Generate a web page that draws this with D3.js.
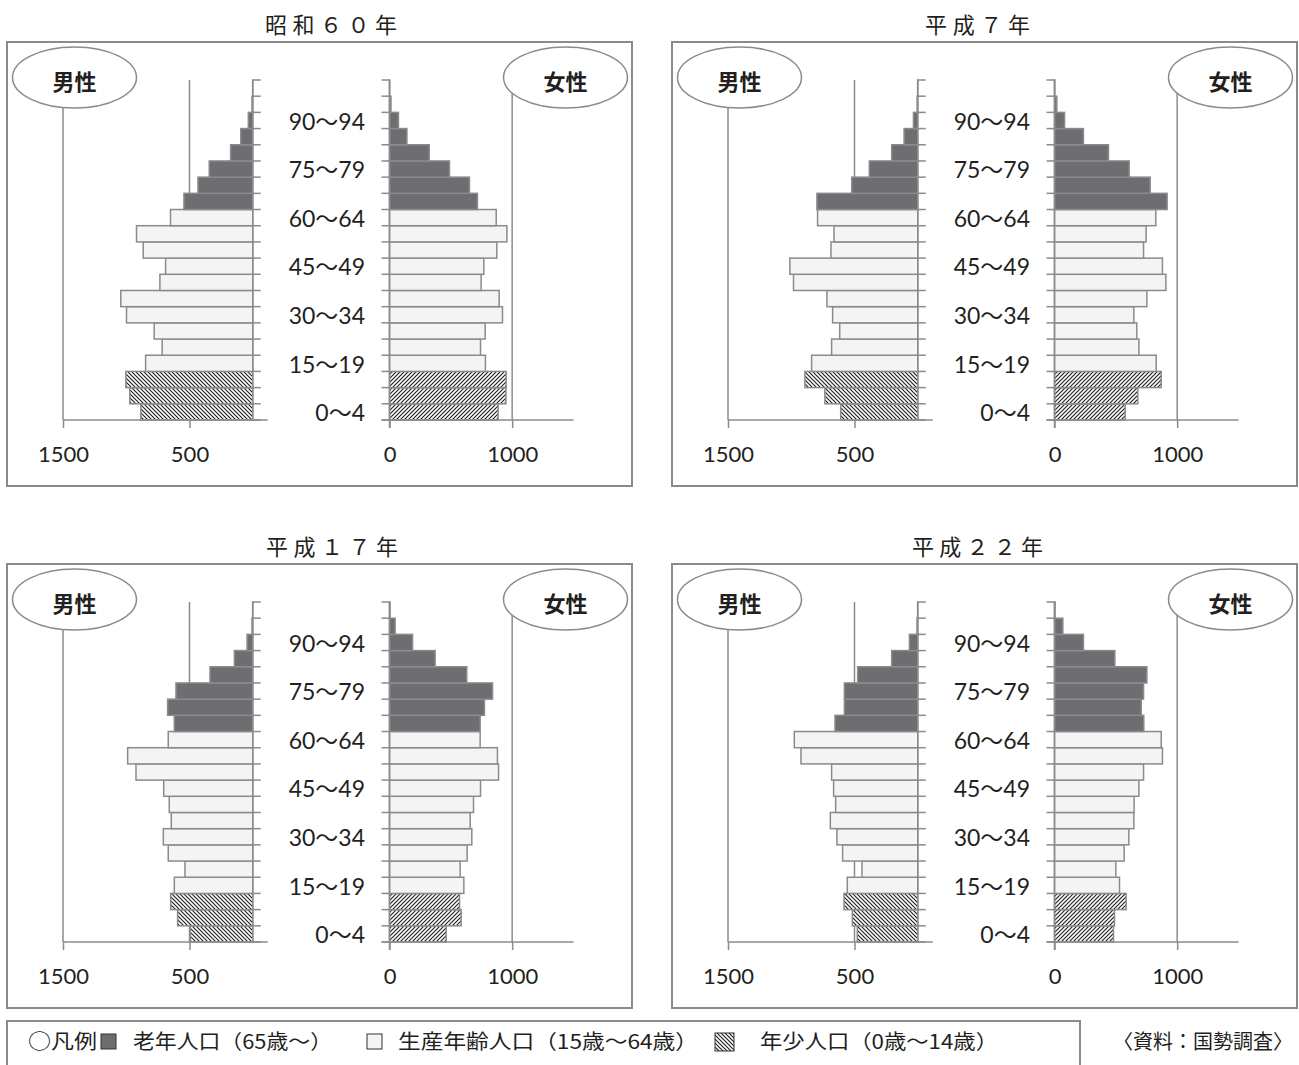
<!DOCTYPE html>
<html>
<head>
<meta charset="utf-8">
<script src="https://cdn.jsdelivr.net/npm/d3@7"></script>
<style>
    body { margin: 0; background: #fff; }
    svg { display: block; }
</style>
</head>
<body>
<div id="chart"></div>
<script>
// age groups, youngest first
var ageGroups = ["0〜4", "5〜9", "10〜14", "15〜19", "20〜24", "25〜29", "30〜34", "35〜39", "40〜44",
    "45〜49", "50〜54", "55〜59", "60〜64", "65〜69", "70〜74", "75〜79", "80〜84", "85〜89",
    "90〜94", "95〜99", "100〜"];
var ageLabels = ["0〜4", "15〜19", "30〜34", "45〜49", "60〜64", "75〜79", "90〜94"];
var years = ["昭和６０年", "平成７年", "平成１７年", "平成２２年"];

var maleS60   = [885, 972, 1003, 847, 716, 779, 998, 1043, 734, 689, 866, 919, 650, 544, 433, 344, 175, 95, 35, 6, 1];
var femaleS60 = [886, 949, 951, 782, 742, 780, 921, 894, 747, 769, 875, 957, 870, 717, 652, 489, 324, 142, 73, 12, 2];
var maleH7    = [609, 734, 892, 839, 681, 617, 673, 718, 982, 1011, 686, 662, 792, 797, 522, 383, 206, 108, 34, 5, 1];
var femaleH7  = [576, 679, 870, 829, 688, 671, 647, 753, 908, 880, 726, 747, 826, 918, 780, 609, 440, 236, 82, 19, 3];
var maleH17   = [493, 594, 649, 620, 536, 668, 707, 644, 660, 704, 923, 989, 668, 620, 673, 607, 338, 145, 45, 6, 1];
var femaleH17 = [462, 584, 571, 606, 576, 633, 671, 658, 685, 742, 889, 880, 739, 739, 774, 840, 630, 372, 188, 46, 5];
var maleH22   = [478, 517, 583, 557, 441, 594, 639, 691, 649, 665, 681, 923, 976, 654, 580, 580, 475, 206, 66, 6, 1];
var femaleH22 = [481, 489, 584, 530, 500, 568, 606, 647, 649, 688, 726, 880, 870, 728, 707, 726, 753, 492, 236, 68, 5];

var maleTicks = [1500, 500];
var femaleTicks = [0, 1000];

var legendLabels = ["老年人口（65歳〜）", "生産年齢人口（15歳〜64歳）", "年少人口（0歳〜14歳）"];
var sourceText = "〈資料：国勢調査〉";

var W = 1299, H = 1065,
    lineCol = "#8b8b8b", textCol = "#231f20",
    darkFill = "#6d6e71", lightFill = "#f3f4f4",
    numFont = "Lato, 'Noto Sans CJK JP', sans-serif",
    jpFont = "'Noto Sans CJK JP', sans-serif";

var panels = [
    {title: years[0], male: maleS60, female: femaleS60, dx: 0,   dy: 0,   tx: 265, tw: 132},
    {title: years[1], male: maleH7,  female: femaleH7,  dx: 665, dy: 0,   tx: 260, tw: 105},
    {title: years[2], male: maleH17, female: femaleH17, dx: 0,   dy: 522, tx: 266, tw: 132},
    {title: years[3], male: maleH22, female: femaleH22, dx: 665, dy: 522, tx: 247, tw: 131}
];

var svg = d3.select("#chart").append("svg")
    .attr("width", W).attr("height", H)
    .style("background", "#fff");

// hatch patterns (male side mirrored)
var defs = svg.append("defs");
function hatch(id, d) {
    var p = defs.append("pattern").attr("id", id)
        .attr("patternUnits", "userSpaceOnUse")
        .attr("width", 4).attr("height", 4);
    p.append("rect").attr("width", 4).attr("height", 4).attr("fill", "#fff");
    p.append("path").attr("d", d).attr("stroke", "#222").attr("stroke-width", 1.2);
}
hatch("hatchBack", "M-1,3 l2,2 M0,0 l4,4 M3,-1 l2,2");
hatch("hatchFwd", "M-1,1 l2,-2 M0,4 l4,-4 M3,5 l2,-2");

function ageFill(i, male) {
    if (i < 3) return male ? "url(#hatchBack)" : "url(#hatchFwd)";
    if (i < 13) return lightFill;
    return darkFill;
}

var y = d3.scaleBand().domain(ageGroups.slice().reverse()).range([80, 420]).padding(0);
var xM = d3.scaleLinear().domain([0, 1500]).range([252.75, 63]);
var xF = d3.scaleLinear().domain([0, 1500]).range([389.5, 573.5]);

function drawPanel(p) {
    var g = svg.append("g").attr("transform", "translate(" + p.dx + "," + p.dy + ")");

    g.append("rect")
        .attr("x", 7).attr("y", 42).attr("width", 625).attr("height", 444)
        .attr("fill", "none").attr("stroke", lineCol).attr("stroke-width", 2);

    g.append("text")
        .attr("x", p.tx).attr("y", 33)
        .attr("textLength", p.tw).attr("lengthAdjust", "spacing")
        .style("font-family", jpFont).style("font-size", "22px")
        .attr("fill", textCol)
        .text(p.title);

    // gridlines
    g.selectAll(".gm").data(maleTicks).enter().append("line")
        .attr("x1", xM).attr("x2", xM)
        .attr("y1", y.range()[0]).attr("y2", y.range()[1])
        .attr("stroke", lineCol).attr("stroke-width", 1.5);
    g.selectAll(".gf").data([1000]).enter().append("line")
        .attr("x1", xF).attr("x2", xF)
        .attr("y1", y.range()[0]).attr("y2", y.range()[1])
        .attr("stroke", lineCol).attr("stroke-width", 1.5);

    // bars
    g.selectAll(".bm").data(p.male).enter().append("rect")
        .attr("x", function(d) { return xM(d); })
        .attr("y", function(d, i) { return y(ageGroups[i]); })
        .attr("width", function(d) { return xM(0) - xM(d); })
        .attr("height", y.bandwidth())
        .attr("fill", function(d, i) { return ageFill(i, true); })
        .attr("stroke", lineCol).attr("stroke-width", 1.5);
    g.selectAll(".bf").data(p.female).enter().append("rect")
        .attr("x", xF(0))
        .attr("y", function(d, i) { return y(ageGroups[i]); })
        .attr("width", function(d) { return xF(d) - xF(0); })
        .attr("height", y.bandwidth())
        .attr("fill", function(d, i) { return ageFill(i, false); })
        .attr("stroke", lineCol).attr("stroke-width", 1.5);

    // category axes: ticks between bands
    var bounds = d3.range(ageGroups.length + 1).map(function(i) { return y.range()[0] + i * y.step(); });
    g.append("line").attr("x1", xM(0)).attr("x2", xM(0))
        .attr("y1", y.range()[0]).attr("y2", y.range()[1])
        .attr("stroke", lineCol).attr("stroke-width", 1.5);
    g.append("line").attr("x1", xF(0)).attr("x2", xF(0))
        .attr("y1", y.range()[0]).attr("y2", y.range()[1] + 8)
        .attr("stroke", lineCol).attr("stroke-width", 1.5);
    g.selectAll(".tm").data(bounds).enter().append("line")
        .attr("x1", xM(0)).attr("x2", xM(0) + 8)
        .attr("y1", function(d) { return d; }).attr("y2", function(d) { return d; })
        .attr("stroke", lineCol).attr("stroke-width", 1.5);
    g.selectAll(".tf").data(bounds).enter().append("line")
        .attr("x1", xF(0) - 8).attr("x2", xF(0))
        .attr("y1", function(d) { return d; }).attr("y2", function(d) { return d; })
        .attr("stroke", lineCol).attr("stroke-width", 1.5);

    g.selectAll(".al").data(ageLabels).enter().append("text")
        .attr("x", 365)
        .attr("y", function(d) { return y(d) + y.bandwidth() / 2 + 1; })
        .attr("text-anchor", "end").attr("dy", "0.36em")
        .style("font-family", numFont).style("font-size", "23px")
        .attr("fill", textCol)
        .text(function(d) { return d; });

    // value axes
    var fmt = d3.format("d");
    var axM = g.append("g").attr("transform", "translate(0," + y.range()[1] + ")")
        .call(d3.axisBottom(xM).tickValues(maleTicks).tickFormat(fmt)
            .tickSize(8).tickSizeOuter(0).tickPadding(18));
    axM.select(".domain").attr("d", "M" + xM(1500) + ",0H" + (xM(0) + 15));
    var axF = g.append("g").attr("transform", "translate(0," + y.range()[1] + ")")
        .call(d3.axisBottom(xF).tickValues(femaleTicks).tickFormat(fmt)
            .tickSize(8).tickSizeOuter(0).tickPadding(18));
    axF.select(".domain").attr("d", "M" + (xF(0) - 8) + ",0H" + xF(1500));
    [axM, axF].forEach(function(ax) {
        ax.selectAll(".domain, line").attr("stroke", lineCol).attr("stroke-width", 1.5);
        ax.selectAll("text")
            .style("font-family", numFont).style("font-size", "22px")
            .attr("fill", textCol);
    });

    // sex labels
    [{cx: 74.5, t: "男性"}, {cx: 565.5, t: "女性"}].forEach(function(s) {
        g.append("ellipse").attr("cx", s.cx).attr("cy", 77.5).attr("rx", 62).attr("ry", 30.5)
            .attr("fill", "#fff").attr("stroke", lineCol).attr("stroke-width", 1.5);
        g.append("text").attr("x", s.cx).attr("y", 82).attr("dy", "0.36em")
            .attr("text-anchor", "middle")
            .style("font-family", jpFont).style("font-size", "22px").style("font-weight", "bold")
            .attr("fill", textCol).text(s.t);
    });
}

panels.forEach(drawPanel);

// legend
var lg = svg.append("g");
lg.append("rect").attr("x", 7).attr("y", 1021).attr("width", 1073).attr("height", 70)
    .attr("fill", "none").attr("stroke", lineCol).attr("stroke-width", 2);

function legendText(x, w, t) {
    lg.append("text").attr("x", x).attr("y", 1049)
        .attr("textLength", w).attr("lengthAdjust", "spacingAndGlyphs")
        .style("font-family", jpFont).style("font-size", "20px")
        .attr("fill", textCol).text(t);
}
legendText(28, 69, "○凡例");
lg.append("rect").attr("x", 101).attr("y", 1034).attr("width", 15).attr("height", 15)
    .attr("fill", darkFill).attr("stroke", "#333").attr("stroke-width", 1);
legendText(133, 199, legendLabels[0]);
lg.append("rect").attr("x", 367).attr("y", 1034).attr("width", 15).attr("height", 15)
    .attr("fill", lightFill).attr("stroke", "#333").attr("stroke-width", 1);
legendText(398, 300, legendLabels[1]);
lg.append("rect").attr("x", 715).attr("y", 1033).attr("width", 19).attr("height", 18)
    .attr("fill", "url(#hatchBack)").attr("stroke", "#333").attr("stroke-width", 1);
legendText(760, 238, legendLabels[2]);

// source note, kept inside the page
lg.append("text").attr("x", 1113).attr("y", 1049)
    .attr("textLength", 180).attr("lengthAdjust", "spacing")
    .style("font-family", jpFont).style("font-size", "20px")
    .attr("fill", textCol).text(sourceText);
</script>
</body>
</html>
